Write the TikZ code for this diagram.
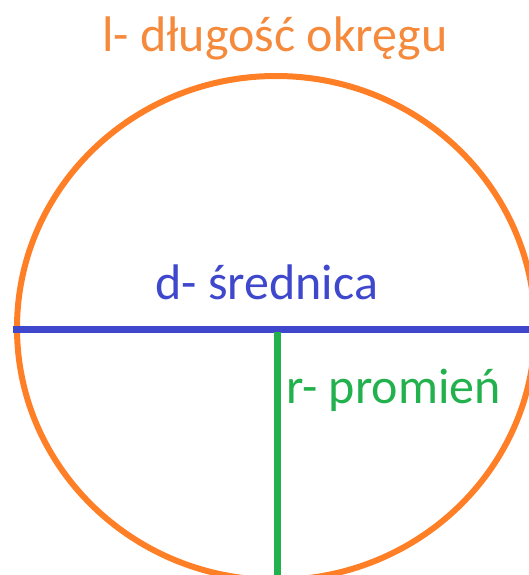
\documentclass[tikz,border=0pt]{standalone}
\usepackage{fontspec}
\setmainfont{Carlito}
\definecolor{porange}{HTML}{FF7F27}
\definecolor{torange}{HTML}{F58A3C}
\definecolor{pblue}{HTML}{3F48CC}
\definecolor{pgreen}{HTML}{22B14C}
\begin{document}
\begin{tikzpicture}[x=1pt,y=-1pt,
  lbl/.style={anchor=base west,inner sep=0pt,font=\fontsize{50}{60}\selectfont}]
\useasboundingbox (0,0) rectangle (529,575);
\clip (0,0) rectangle (529,575);
\coordinate (c) at (276,328);
\draw[porange,line width=6pt] (c) ellipse [x radius=259, y radius=252];
\coordinate (dl) at (13,329.5);
\coordinate (dr) at (529,329.5);
\draw[pblue,line width=6.5pt] (dl) -- (dr);
\coordinate (rt) at (277,332);
\coordinate (rb) at (277,575);
\draw[pgreen,line width=7pt] (rt) -- (rb);
\node[lbl,text=torange] (l) at (102,52) {l- długość okręgu};
\node[lbl,text=pblue] (d) at (155,299) {d- średnica};
\node[lbl,text=pgreen] (r) at (286,403) {r- promień};
\end{tikzpicture}
\end{document}
